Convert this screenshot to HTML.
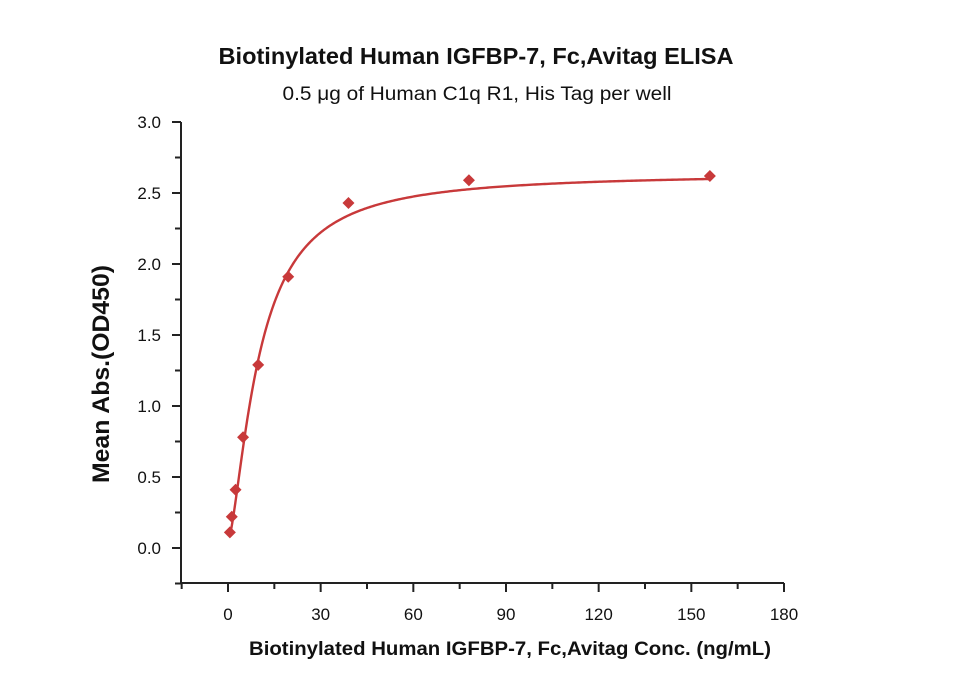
<!DOCTYPE html>
<html><head><meta charset="utf-8"><style>
body{margin:0;background:#fff;}
svg{display:block;font-family:"Liberation Sans",sans-serif;}
</style></head><body>
<svg id="chart" width="959" height="685">
<text x="476" y="64" text-anchor="middle" font-size="23" font-weight="bold" fill="#111" textLength="515" lengthAdjust="spacingAndGlyphs">Biotinylated Human IGFBP-7, Fc,Avitag ELISA</text>
<text x="477" y="100" text-anchor="middle" font-size="19" fill="#111" textLength="389" lengthAdjust="spacingAndGlyphs">0.5 μg of Human C1q R1, His Tag per well</text>
<text transform="translate(109,374) rotate(-90)" text-anchor="middle" font-size="24" font-weight="bold" fill="#111" textLength="218" lengthAdjust="spacingAndGlyphs">Mean Abs.(OD450)</text>
<text x="510" y="655" text-anchor="middle" font-size="19" font-weight="bold" fill="#111" textLength="522" lengthAdjust="spacingAndGlyphs">Biotinylated Human IGFBP-7, Fc,Avitag Conc. (ng/mL)</text>
<g id="axes"></g><g id="curve"></g><g id="points"></g>
</svg>
<script>
const xTicks=[0,30,60,90,120,150,180];
const yTicks=[0.0,0.5,1.0,1.5,2.0,2.5,3.0];
const concs=[0.61,1.22,2.44,4.88,9.77,19.5,39,78,156];
const absVals=[0.11,0.22,0.41,0.78,1.29,1.91,2.43,2.59,2.62];
const fitBottom=0.05, fitTop=2.64, fitEC50=10.0, fitHill=1.5;
const PL=181,PR=784,PT=122,PB=583;
const sx=v=>228+v*(784-228)/180;
const sy=v=>548-v*(548-122)/3;
const NS="http://www.w3.org/2000/svg";
function mk(t,a,p){const e=document.createElementNS(NS,t);for(const k in a)e.setAttribute(k,a[k]);p.appendChild(e);return e;}
const ax=document.getElementById('axes');
let e=mk('line',{x1:PL,y1:PT,x2:PL,y2:PB+1,stroke:'#222','stroke-width':2},ax);


e=mk('line',{x1:PL-1,y1:PB,x2:PR,y2:PB,stroke:'#222','stroke-width':2},ax);


xTicks.forEach(t=>{const x=sx(t);
 mk('line',{x1:x,y1:PB,x2:x,y2:PB+9,stroke:'#222','stroke-width':2},ax);
 const m=sx(t-15); if(m>=PL-1) mk('line',{x1:m,y1:PB,x2:m,y2:PB+6,stroke:'#222','stroke-width':2},ax);
 const tx=mk('text',{x:x,y:PB+37,'text-anchor':'middle','font-size':17,fill:'#111'},ax);tx.textContent=t;
 
 
});
yTicks.forEach(t=>{const y=sy(t);
 mk('line',{x1:PL-9,y1:y,x2:PL,y2:y,stroke:'#222','stroke-width':2},ax);
 mk('line',{x1:PL-6,y1:sy(t-0.25),x2:PL,y2:sy(t-0.25),stroke:'#222','stroke-width':2},ax);
 const tx=mk('text',{x:PL-20,y:y+6,'text-anchor':'end','font-size':17,fill:'#111'},ax);tx.textContent=t.toFixed(1);
 
 
});
let d='';
for(let i=0;i<=400;i++){const c=concs[0]+(concs[concs.length-1]-concs[0])*Math.pow(i/400,2);
 const y=fitBottom+(fitTop-fitBottom)/(1+Math.pow(fitEC50/c,fitHill));
 d+=(i?'L':'M')+sx(c).toFixed(2)+','+sy(y).toFixed(2);}
e=mk('path',{d:d,fill:'none',stroke:'#c8393a','stroke-width':2.4},document.getElementById('curve'));


const pg=document.getElementById('points');
concs.forEach((c,i)=>{const x=sx(c),y=sy(absVals[i]);
 const p=mk('polygon',{points:`${x},${y-6} ${x+6},${y} ${x},${y+6} ${x-6},${y}`,fill:'#c8393a'},pg);
 
 
});
</script>
</body></html>
